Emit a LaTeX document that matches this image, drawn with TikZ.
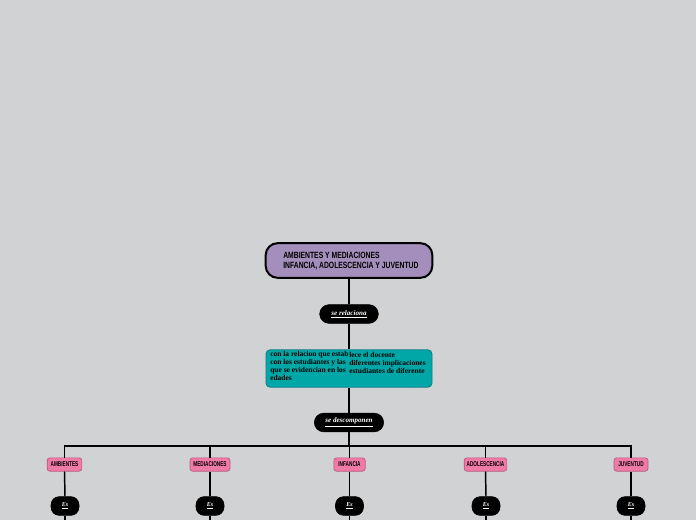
\documentclass[tikz,border=0pt]{standalone}
\usepackage{fontspec}
\setmainfont{Liberation Serif}
\newfontfamily\titlefont{Liberation Sans}
\usetikzlibrary{positioning}
\definecolor{bgc}{HTML}{D1D2D4}
\definecolor{titlefill}{HTML}{A48EBC}
\definecolor{tealfill}{HTML}{00A7A6}
\definecolor{tealline}{HTML}{0B7F86}
\definecolor{pinkfill}{HTML}{F07AA6}
\definecolor{pinkline}{HTML}{B65A7C}
\tikzset{
  conn/.style={draw=black, line width=1.1pt},
  pill/.style={fill=black, draw=black, rounded corners=7pt, inner sep=0pt, text=white,
    font=\fontsize{5.3}{6}\selectfont\bfseries\itshape},
  pinkbox/.style={fill=pinkfill, draw=pinkline, line width=0.5pt, rounded corners=2pt, inner sep=0pt,
    minimum height=10pt, font=\titlefont\fontsize{5.2}{5.2}\selectfont\bfseries},
  espill/.style={fill=black, draw=black, rounded corners=6pt, minimum width=21pt, minimum height=14pt,
    inner sep=0pt, text=white, font=\fontsize{4.5}{4.5}\selectfont\bfseries\itshape},
}
\begin{document}
\begin{tikzpicture}[x=0.75pt,y=-0.75pt]
\fill[bgc] (0,0) rectangle (696,520);
\useasboundingbox (0,0) rectangle (696,520);
% title
\node[fill=titlefill, draw=black, line width=1.5pt, rounded corners=9pt, minimum width=125pt,
  minimum height=26pt, inner sep=0pt] (title) at (349,260.5) {};
\node[anchor=west, align=left, inner sep=0pt, font=\titlefont\fontsize{6.8}{7.6}\selectfont\bfseries] (titletext) at (283,261)
  {\scalebox{0.75}[1]{AMBIENTES Y MEDIACIONES}\\\scalebox{0.75}[1]{INFANCIA, ADOLESCENCIA Y JUVENTUD}};
% se relaciona
\node[pill, minimum width=44pt, minimum height=14pt] (rel) at (349,314) {\underline{se relaciona}};
% teal box
\node[fill=tealfill, draw=tealline, line width=0.6pt, rounded corners=3pt, minimum width=124.5pt,
  minimum height=28pt, inner sep=0pt] (teal) at (349,368.5) {};
\node[anchor=north west, align=left, inner sep=0pt, font=\fontsize{5.6}{6}\selectfont\bfseries] (tealL) at (270,351.5)
  {con la relacion que estab\\con los estudiantes y las\\que se evidencian en los\\edades};
\node[anchor=north west, align=left, inner sep=0pt, font=\fontsize{5.6}{6}\selectfont\bfseries] (tealR) at (349,352.5)
  {lece el docente\\diferentes implicaciones\\estudiantes de diferente};
% se descomponen
\node[pill, minimum width=52pt, minimum height=14pt] (desc) at (349,422.5) {\underline{se descomponen}};
\coordinate (bar) at (349,446);
% pink boxes
\node[pinkbox, minimum width=26pt] (p1) at (64.5,464.5) {\scalebox{0.68}[1]{AMBIENTES}};
\node[pinkbox, minimum width=30pt] (p2) at (210,464.5) {\scalebox{0.68}[1]{MEDIACIONES}};
\node[pinkbox, minimum width=23.5pt] (p3) at (349.5,464.5) {\scalebox{0.68}[1]{INFANCIA}};
\node[pinkbox, minimum width=32pt] (p4) at (485.5,464.5) {\scalebox{0.68}[1]{ADOLESCENCIA}};
\node[pinkbox, minimum width=25.5pt] (p5) at (631,464.5) {\scalebox{0.68}[1]{JUVENTUD}};
% Es pills
\node[espill] (e1) at (65,506) {\underline{Es}};
\node[espill] (e2) at (210,506) {\underline{Es}};
\node[espill] (e3) at (349.5,506) {\underline{Es}};
\node[espill] (e4) at (486,506) {\underline{Es}};
\node[espill] (e5) at (631,506) {\underline{Es}};
\foreach \i/\x in {1/65,2/210,3/349.5,4/486,5/631}{
  \coordinate (end\i) at (\x,521);
}
% connectors
\draw[conn] (title.south) -- (rel.north);
\draw[conn] (rel.south) -- (teal.north);
\draw[conn] (teal.south) -- (desc.north);
\draw[conn] (desc.south) -- (bar);
\foreach \i in {1,...,5}{
  \draw[conn] (bar) -| (p\i.north);
  \draw[conn] (p\i.south) -- (e\i.north);
  \draw[conn] (e\i.south) -- (end\i);
}
\end{tikzpicture}
\end{document}
